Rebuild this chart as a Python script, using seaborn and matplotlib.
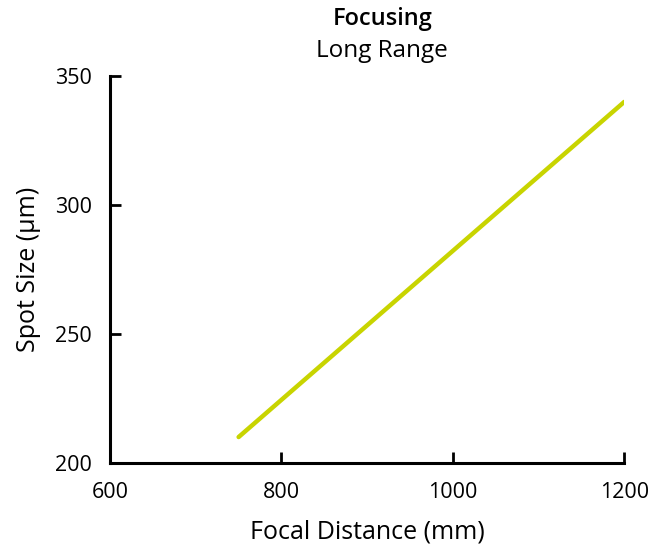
import matplotlib
matplotlib.use("Agg")
import matplotlib.pyplot as plt
import pandas as pd
import seaborn as sns

# ── Data ────────────────────────────────────────────────────────────────
focal_distance = [750, 1200]   # mm
spot_size = [210, 340]         # µm
x_ticks = [600, 800, 1000, 1200]
y_ticks = [200, 250, 300, 350]

LINE_COLOR = "#c8d400"

sns.set_theme(style="white")
plt.rcParams["font.family"] = ["Open Sans", "DejaVu Sans"]

df = pd.DataFrame({"Focal Distance (mm)": focal_distance, "Spot Size (µm)": spot_size})

fig = plt.figure(figsize=(6.67, 5.51), dpi=100)
ax = fig.add_axes([0.165, 0.16, 0.771, 0.702])

sns.lineplot(
    data=df,
    x="Focal Distance (mm)",
    y="Spot Size (µm)",
    color=LINE_COLOR,
    linewidth=3.2,
    solid_capstyle="round",
    ax=ax,
)

ax.set_xlim(600, 1200)
ax.set_ylim(200, 350)
ax.set_xticks(x_ticks)
ax.set_yticks(y_ticks)
ax.tick_params(bottom=True, left=True, direction="in", length=8, width=2,
               color="black", labelcolor="black", labelsize=15.5)
ax.tick_params(axis="x", pad=14)
ax.tick_params(axis="y", pad=13)
ax.set_xlabel("Focal Distance (mm)", fontsize=18, labelpad=12, color="black")
ax.set_ylabel("Spot Size (µm)", fontsize=18, labelpad=10, color="black")

for side in ["top", "right"]:
    ax.spines[side].set_visible(False)
for side in ["left", "bottom"]:
    ax.spines[side].set_linewidth(2.2)
    ax.spines[side].set_color("black")

fig.text(0.573, 0.965, "Focusing", ha="center", va="center", fontsize=17,
         fontweight="semibold", color="black")
fig.text(0.573, 0.907, "Long Range", ha="center", va="center", fontsize=17.5,
         color="black")

fig.savefig("out.png", dpi=100)
plt.close(fig)
